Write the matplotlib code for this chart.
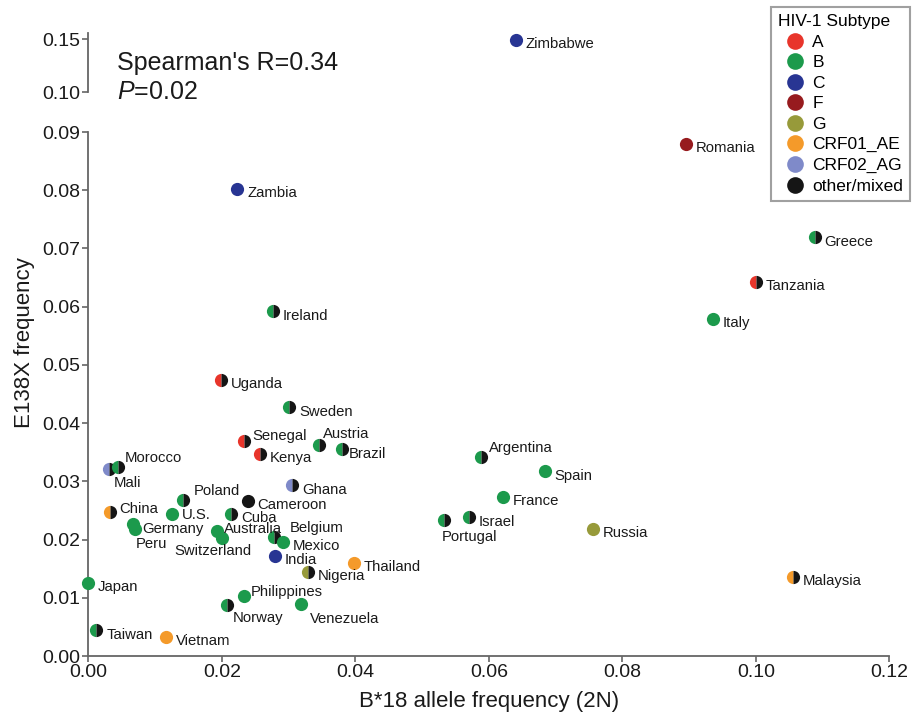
import matplotlib
matplotlib.use("Agg")
import matplotlib.pyplot as plt
from matplotlib.lines import Line2D
from matplotlib.ticker import FormatStrFormatter

plt.rcParams['font.family'] = ['Liberation Sans', 'DejaVu Sans']
plt.rcParams['mathtext.fontset'] = 'custom'
plt.rcParams['mathtext.rm'] = 'Liberation Sans'
plt.rcParams['mathtext.it'] = 'Liberation Sans:italic'

# B*18 allele frequency vs E138X frequency by country
countries = ["Zimbabwe", "Zambia", "Romania", "Greece", "Tanzania", "Italy",
             "Ireland", "Uganda", "Sweden", "Senegal", "Kenya", "Austria",
             "Brazil", "Argentina", "Spain", "France", "Mali", "Morocco",
             "Ghana", "Poland", "Cameroon", "China", "U.S.", "Cuba",
             "Germany", "Peru", "Australia", "Switzerland", "Belgium", "Mexico",
             "India", "Thailand", "Nigeria", "Japan", "Philippines", "Norway",
             "Venezuela", "Taiwan", "Vietnam", "Portugal", "Israel", "Russia",
             "Malaysia"]
b18 = [0.0640, 0.0223, 0.0895, 0.1088, 0.1000, 0.0936,
       0.0277, 0.0199, 0.0301, 0.0233, 0.0257, 0.0345,
       0.0380, 0.0588, 0.0684, 0.0621, 0.0031, 0.0044,
       0.0305, 0.0141, 0.0239, 0.0032, 0.0125, 0.0214,
       0.0066, 0.0069, 0.0193, 0.0200, 0.0278, 0.0292,
       0.0279, 0.0398, 0.0329, 0.0000, 0.0233, 0.0208,
       0.0318, 0.0012, 0.0116, 0.0533, 0.0570, 0.0756,
       0.1055]
e138x = [0.149, 0.0802, 0.0880, 0.0719, 0.0642, 0.0579,
         0.0592, 0.0474, 0.0427, 0.0369, 0.0347, 0.0363,
         0.0356, 0.0341, 0.0317, 0.0273, 0.0321, 0.0324,
         0.0293, 0.0268, 0.0267, 0.0247, 0.0244, 0.0244,
         0.0226, 0.0219, 0.0215, 0.0202, 0.0204, 0.0196,
         0.0172, 0.0160, 0.0145, 0.0125, 0.0103, 0.0087,
         0.0090, 0.0044, 0.0033, 0.0233, 0.0238, 0.0218,
         0.0136]
subtype = ["C", "C", "F", "B", "A", "B",
           "B", "A", "B", "A", "A", "B",
           "B", "B", "B", "B", "CRF02_AG", "B",
           "CRF02_AG", "B", "other/mixed", "CRF01_AE", "B", "B",
           "B", "B", "B", "B", "B", "B",
           "C", "CRF01_AE", "G", "B", "B", "B",
           "B", "B", "CRF01_AE", "B", "B", "G",
           "CRF01_AE"]
mixed = [False, False, False, True, True, False,
         True, True, True, True, True, True,
         True, True, False, False, True, True,
         True, True, False, True, False, True,
         False, False, False, False, True, False,
         False, False, True, False, False, True,
         False, True, False, True, True, False,
         True]

legend_labels = ["A", "B", "C", "F", "G", "CRF01_AE", "CRF02_AG", "other/mixed"]
legend_colors = ["#e8352b", "#1c9a4c", "#283593", "#971b1e", "#979a3a",
                 "#f49a2a", "#7f8ac9", "#151515"]
colors = dict(zip(legend_labels, legend_colors))

# label offsets in points (default: right of the dot)
label_pos = {
    "Morocco": (5, 7, "left"), "Mali": (3, -10, "left"),
    "Senegal": (6, 4, "left"), "Austria": (3, 8, "left"),
    "Brazil": (5, -4, "left"), "Poland": (8, 6.5, "left"),
    "China": (7, 2, "left"), "U.S.": (7, -1, "left"),
    "Germany": (7, -3.5, "left"), "Peru": (1, -11, "left"),
    "Australia": (5, 1.5, "left"), "Switzerland": (-6.5, -9, "center"),
    "Belgium": (11, 6.5, "left"), "Philippines": (5, 3, "left"),
    "Norway": (4, -9, "left"), "Venezuela": (6.5, -11, "left"),
    "Portugal": (-2, -12, "left"), "Argentina": (6, 6.5, "left"),
}

fig = plt.figure(figsize=(9.13, 7.19), dpi=100)
ax = fig.add_axes([0.0969, 0.0876, 0.8773, 0.7288])
ax_top = fig.add_axes([0.0969, 0.8716, 0.8773, 0.0825])

spine_color = "#666666"
for a in (ax, ax_top):
    a.spines['top'].set_visible(False)
    a.spines['right'].set_visible(False)
    for s in ('left', 'bottom'):
        a.spines[s].set_color(spine_color)
        a.spines[s].set_linewidth(1.3)
    a.tick_params(direction='out', length=4, width=1.2, color=spine_color,
                  labelsize=14, labelcolor="#1a1a1a", pad=2)
    a.set_xlim(0, 0.12)

ax.set_ylim(0, 0.09)
ax.set_yticks([i / 100 for i in range(10)])
ax.set_xticks([0, 0.02, 0.04, 0.06, 0.08, 0.10, 0.12])
ax.xaxis.set_major_formatter(FormatStrFormatter('%.2f'))
ax.yaxis.set_major_formatter(FormatStrFormatter('%.2f'))

ax_top.set_ylim(0.10, 0.1559)
ax_top.set_yticks([0.10, 0.15])
ax_top.yaxis.set_major_formatter(FormatStrFormatter('%.2f'))
ax_top.spines['bottom'].set_visible(False)
ax_top.set_xticks([])
ax_top.patch.set_alpha(0)

for name, x, y, st, mx in zip(countries, b18, e138x, subtype, mixed):
    target = ax_top if y > 0.1 else ax
    kw = dict(marker='o', markersize=9.5, markeredgewidth=0, linestyle='none',
              markerfacecolor=colors[st], clip_on=False, zorder=3)
    if mx:
        kw.update(fillstyle='left', markerfacecoloralt=colors["other/mixed"])
    target.plot([x], [y], **kw)
    dx, dy, ha = label_pos.get(name, (7, -3, "left"))
    target.annotate(name, (x, y), xytext=(dx, dy), textcoords='offset points',
                    ha=ha, va='center', fontsize=10.7, color="#1a1a1a", zorder=4)

ax.set_xlabel("B*18 allele frequency (2N)", fontsize=16, color="#1a1a1a",
              labelpad=7)
fig.text(0.027, 1 - 343 / 719, "E138X frequency", rotation=90, fontsize=16,
         color="#1a1a1a", ha='center', va='center')

fig.text(0.128, 1 - 63 / 719, "Spearman's R=0.34", fontsize=18,
         color="#1a1a1a", va='center')
fig.text(0.128, 1 - 92 / 719, r"$P$=0.02", fontsize=18,
         color="#1a1a1a", va='center')

handles = [Line2D([], [], marker='o', linestyle='none', markersize=12,
                  markeredgewidth=0, markerfacecolor=c) for c in legend_colors]
leg = fig.legend(handles, legend_labels, title="HIV-1 Subtype",
                 loc='upper right', bbox_to_anchor=(0.997, 0.99),
                 fontsize=12.5, title_fontsize=12.5, frameon=True,
                 fancybox=False, labelspacing=0.31, handletextpad=0.0,
                 handlelength=2.0, borderpad=0.4, borderaxespad=0)
leg._legend_box.align = "left"
leg.get_frame().set_edgecolor("#888888")
leg.get_frame().set_linewidth(1.5)

fig.savefig("out.png", dpi=100)
